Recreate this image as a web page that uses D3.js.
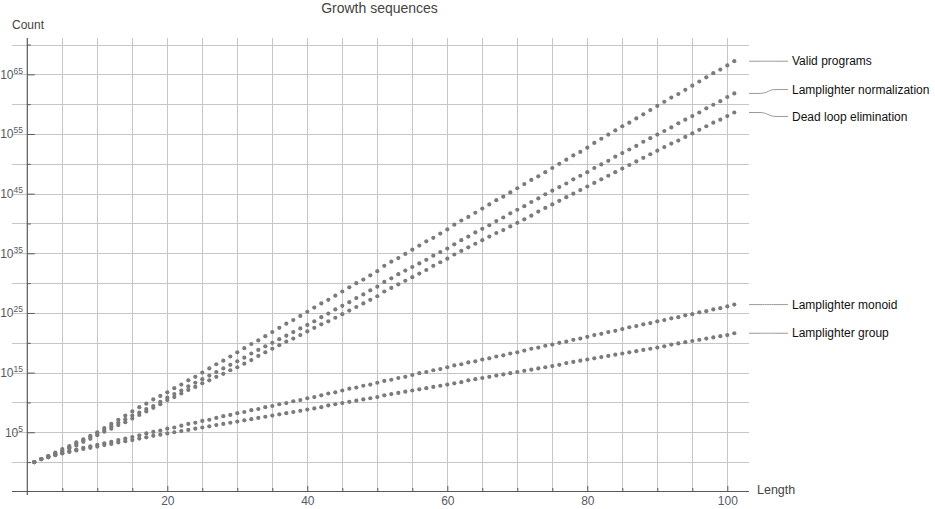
<!DOCTYPE html>
<html>
<head>
<meta charset="utf-8">
<script src="https://cdn.jsdelivr.net/npm/d3@7"></script>
<style>
  html, body { margin: 0; padding: 0; background: #fff; }
  svg { display: block; font-family: "Liberation Sans", Arial, Helvetica, sans-serif; }
</style>
</head>
<body>
<svg id="chart" width="935" height="509"></svg>
<script>
// ---- Data (log10 of the count) ----
const seriesNames = ["Valid programs", "Lamplighter normalization", "Dead loop elimination", "Lamplighter monoid", "Lamplighter group"];

const validPrograms = [0,0.5,1.0,1.6,2.2,2.7,3.3,3.8,4.4,5.0,
5.7,6.4,7.1,7.8,8.5,9.2,9.8,10.5,11.1,11.7,
12.4,13.0,13.7,14.3,15.0,15.7,16.4,17.0,17.7,18.4,
19.1,19.8,20.4,21.1,21.8,22.5,23.2,23.8,24.5,25.2,
25.9,26.6,27.2,27.9,28.6,29.3,30.0,30.6,31.3,32.0,
32.9,33.6,34.2,34.9,35.6,36.3,37.0,37.6,38.3,39.0,
39.8,40.5,41.1,41.8,42.5,43.2,43.9,44.5,45.2,45.9,
46.6,47.3,47.9,48.6,49.3,50.0,50.7,51.4,52.0,52.7,
53.5,54.2,54.9,55.6,56.3,56.9,57.6,58.3,59.0,59.7,
60.4,61.1,61.7,62.4,63.1,63.8,64.5,65.2,65.8,66.5,
67.2];

const lamplighterNormalization = [0,0.5,1.0,1.4,1.9,2.5,3.1,3.6,4.2,4.8,
5.4,6.0,6.6,7.2,7.8,8.3,8.9,9.4,10.1,10.8,
11.4,12.0,12.7,13.3,13.9,14.5,15.1,15.7,16.3,16.9,
17.5,18.2,18.8,19.4,20.0,20.6,21.2,21.8,22.4,23.0,
23.6,24.3,24.9,25.6,26.2,26.8,27.5,28.1,28.8,29.4,
30.2,30.8,31.5,32.1,32.7,33.3,33.9,34.6,35.2,35.8,
36.5,37.2,37.8,38.5,39.1,39.7,40.4,41.0,41.7,42.3,
42.9,43.6,44.2,44.9,45.5,46.1,46.7,47.4,48.0,48.6,
49.3,49.9,50.5,51.2,51.8,52.4,53.0,53.7,54.3,54.9,
55.5,56.1,56.8,57.4,58.0,58.6,59.3,59.9,60.5,61.2,
61.8];

const deadLoopElimination = [0,0.5,0.9,1.3,1.7,2.3,2.8,3.4,3.9,4.5,
5.1,5.6,6.2,6.7,7.3,7.9,8.5,9.1,9.7,10.4,
10.9,11.5,12.1,12.6,13.2,13.7,14.3,14.8,15.4,15.9,
16.5,17.1,17.8,18.4,19.0,19.6,20.2,20.7,21.3,21.9,
22.5,23.1,23.6,24.2,24.8,25.4,26.0,26.6,27.2,27.8,
28.6,29.2,29.8,30.4,31.0,31.6,32.2,32.9,33.5,34.1,
34.8,35.4,36.0,36.6,37.2,37.8,38.4,38.9,39.5,40.1,
40.7,41.3,42.0,42.6,43.2,43.8,44.4,45.0,45.6,46.2,
46.8,47.4,48.0,48.6,49.2,49.8,50.4,51.0,51.6,52.2,
52.8,53.4,53.9,54.5,55.1,55.7,56.3,56.9,57.4,58.0,
58.6];

const lamplighterMonoid = [0,0.5,0.85,1.2,1.5,1.8,2.1,2.4,2.65,2.9,
3.15,3.4,3.7,3.95,4.2,4.5,4.8,5.05,5.3,5.6,
5.8,6.1,6.4,6.6,6.9,7.1,7.4,7.7,7.9,8.2,
8.4,8.7,8.9,9.2,9.4,9.7,9.9,10.2,10.4,10.7,
10.9,11.2,11.5,11.7,12.0,12.3,12.5,12.8,13.0,13.3,
13.6,13.8,14.1,14.3,14.6,14.9,15.1,15.4,15.6,15.9,
16.2,16.4,16.7,16.9,17.2,17.4,17.7,17.9,18.2,18.4,
18.7,19.0,19.2,19.5,19.7,20.0,20.2,20.5,20.7,21.0,
21.3,21.5,21.8,22.0,22.3,22.6,22.8,23.1,23.3,23.6,
23.8,24.1,24.3,24.6,24.8,25.1,25.3,25.6,25.8,26.1,
26.4];

const lamplighterGroup = [0,0.5,0.8,1.15,1.45,1.7,1.95,2.2,2.4,2.6,
2.85,3.05,3.3,3.5,3.7,3.95,4.15,4.4,4.6,4.8,
5.0,5.2,5.4,5.6,5.8,6.0,6.2,6.4,6.6,6.8,
7.0,7.2,7.4,7.6,7.8,8.0,8.2,8.4,8.6,8.8,
9.0,9.2,9.5,9.7,9.9,10.1,10.3,10.5,10.7,10.9,
11.2,11.4,11.6,11.8,12.0,12.2,12.4,12.6,12.8,13.0,
13.2,13.4,13.7,13.9,14.1,14.3,14.5,14.7,14.9,15.1,
15.3,15.5,15.7,15.9,16.1,16.3,16.6,16.8,17.0,17.2,
17.4,17.6,17.8,18.0,18.2,18.4,18.6,18.8,19.0,19.2,
19.4,19.7,19.9,20.1,20.3,20.5,20.7,20.9,21.1,21.3,
21.6];

const lengths = d3.range(1, validPrograms.length + 1);   // 1 .. 101
const xMajorTicks = [20, 40, 60, 80, 100];
const xMinorTicks = [5,10,15,25,30,35,45,50,55,65,70,75,85,90,95];
const yLabelExps = [5, 15, 25, 35, 45, 55, 65];
const yMinorExps = [0, 10, 20, 30, 40, 50, 60, 70];
const xGrid = [5,10,15,20,25,30,35,40,45,50,55,60,65,70,75,80,85,90,95,100];
const yGridExps = [0,5,10,15,20,25,30,35,40,45,50,55,60,65,70];

const allSeries = [validPrograms, lamplighterNormalization, deadLoopElimination, lamplighterMonoid, lamplighterGroup];

// ---- Layout ----
const svg = d3.select("#chart");
const frame = { left: 12, right: 749, top: 38, bottom: 491 };
const x = d3.scaleLinear().domain([0, 100]).range([27.3, 727.3]);
const y = d3.scaleLog().domain([1, 1e70]).range([462.1, 44.5]);
const yE = e => y(Math.pow(10, e));

const gridColor = "#c6c6c6";
const axisColor = "#5a5a5a";
const tickTextColor = "#555b66";
const dotColor = "#7b7b7b";

// grid
svg.append("g").selectAll("line.h").data(yGridExps).join("line")
  .attr("x1", frame.left).attr("x2", frame.right)
  .attr("y1", d => Math.round(yE(d)) + 0.5).attr("y2", d => Math.round(yE(d)) + 0.5)
  .attr("stroke", gridColor).attr("stroke-width", 1);
svg.append("g").selectAll("line.v").data(xGrid).join("line")
  .attr("x1", d => Math.round(x(d)) + 0.5).attr("x2", d => Math.round(x(d)) + 0.5)
  .attr("y1", frame.top).attr("y2", frame.bottom)
  .attr("stroke", gridColor).attr("stroke-width", 1);

// x axis
const xAxisY = frame.bottom;
const gx = svg.append("g").attr("transform", `translate(0,${xAxisY})`);
gx.call(d3.axisBottom(x).tickValues(xMajorTicks).tickSizeInner(-5).tickSizeOuter(0).tickPadding(5.5));
gx.select(".domain").remove();
gx.selectAll(".tick line").attr("stroke", axisColor);
gx.selectAll(".tick text").attr("fill", tickTextColor).attr("font-size", 12)
  .attr("font-family", "Liberation Sans, Arial, sans-serif");
const gxm = svg.append("g").attr("transform", `translate(0,${xAxisY})`);
gxm.call(d3.axisBottom(x).tickValues(xMinorTicks).tickSizeInner(-3).tickSizeOuter(0).tickFormat(""));
gxm.select(".domain").remove();
gxm.selectAll(".tick line").attr("stroke", axisColor);
svg.append("line").attr("x1", frame.left).attr("x2", frame.right)
  .attr("y1", xAxisY + 0.5).attr("y2", xAxisY + 0.5).attr("stroke", axisColor).attr("stroke-width", 1.2);

// y axis
const yAxisX = x(0);
const gy = svg.append("g").attr("transform", `translate(${yAxisX},0)`);
gy.call(d3.axisLeft(y).tickValues(yLabelExps.map(e => Math.pow(10, e))).tickSizeInner(-7.5).tickSizeOuter(0).tickFormat(""));
gy.select(".domain").remove();
gy.selectAll(".tick line").attr("stroke", axisColor);
const gym = svg.append("g").attr("transform", `translate(${yAxisX},0)`);
gym.call(d3.axisLeft(y).tickValues(yMinorExps.map(e => Math.pow(10, e))).tickSizeInner(-3.5).tickSizeOuter(0).tickFormat(""));
gym.select(".domain").remove();
gym.selectAll(".tick line").attr("stroke", axisColor);
svg.append("line").attr("x1", yAxisX).attr("x2", yAxisX)
  .attr("y1", frame.top).attr("y2", frame.bottom + 4).attr("stroke", axisColor).attr("stroke-width", 1.2);

// y tick labels with superscripts
const ylab = svg.append("g").selectAll("text").data(yLabelExps).join("text")
  .attr("x", 23).attr("y", d => yE(d) + 4.5)
  .attr("text-anchor", "end").attr("fill", tickTextColor).attr("font-size", 12);
ylab.append("tspan").text("10");
ylab.append("tspan").attr("dy", -5).attr("font-size", 8.5).text(d => d);

// title and axis labels
svg.append("text").attr("x", (frame.left + frame.right) / 2 - 1).attr("y", 13)
  .attr("text-anchor", "middle").attr("font-size", 14).attr("fill", "#444").text("Growth sequences");
svg.append("text").attr("x", 12).attr("y", 29).attr("font-size", 12).attr("fill", "#444").text("Count");
svg.append("text").attr("x", 757).attr("y", 494).attr("font-size", 12.5).attr("fill", "#444").text("Length");

// points
allSeries.forEach((vals) => {
  svg.append("g").selectAll("circle").data(vals).join("circle")
    .attr("cx", (d, i) => x(lengths[i]))
    .attr("cy", d => yE(d))
    .attr("r", 2.1)
    .attr("fill", dotColor);
});

// labels with leader lines
const ends = allSeries.map((vals, i) => ({ name: seriesNames[i], y0: yE(vals[vals.length - 1]) }));
ends.forEach(d => d.ly = d.y0);
const sorted = ends.slice().sort((a, b) => a.y0 - b.y0);
const minGap = 27;
for (let iter = 0; iter < 200; iter++) {
  for (let k = 0; k < sorted.length - 1; k++) {
    const a = sorted[k], b = sorted[k + 1];
    const gap = b.ly - a.ly;
    if (gap < minGap) {
      const push = (minGap - gap) / 2;
      a.ly -= push; b.ly += push;
    }
  }
}
const lx0 = frame.right, lx1 = 788, tx = 792;
const leader = svg.append("g");
ends.forEach(d => {
  const p = d3.path();
  p.moveTo(lx0, d.y0);
  p.lineTo(lx0 + 10, d.y0);
  p.bezierCurveTo(lx0 + 20, d.y0, lx0 + 18, d.ly, lx0 + 28, d.ly);
  p.lineTo(lx1, d.ly);
  leader.append("path").attr("d", p.toString()).attr("fill", "none")
    .attr("stroke", "#9a9a9a").attr("stroke-width", 1);
  svg.append("text").attr("x", tx).attr("y", d.ly + 4.2)
    .attr("font-size", 12).attr("fill", "#111").text(d.name);
});
</script>
</body>
</html>
